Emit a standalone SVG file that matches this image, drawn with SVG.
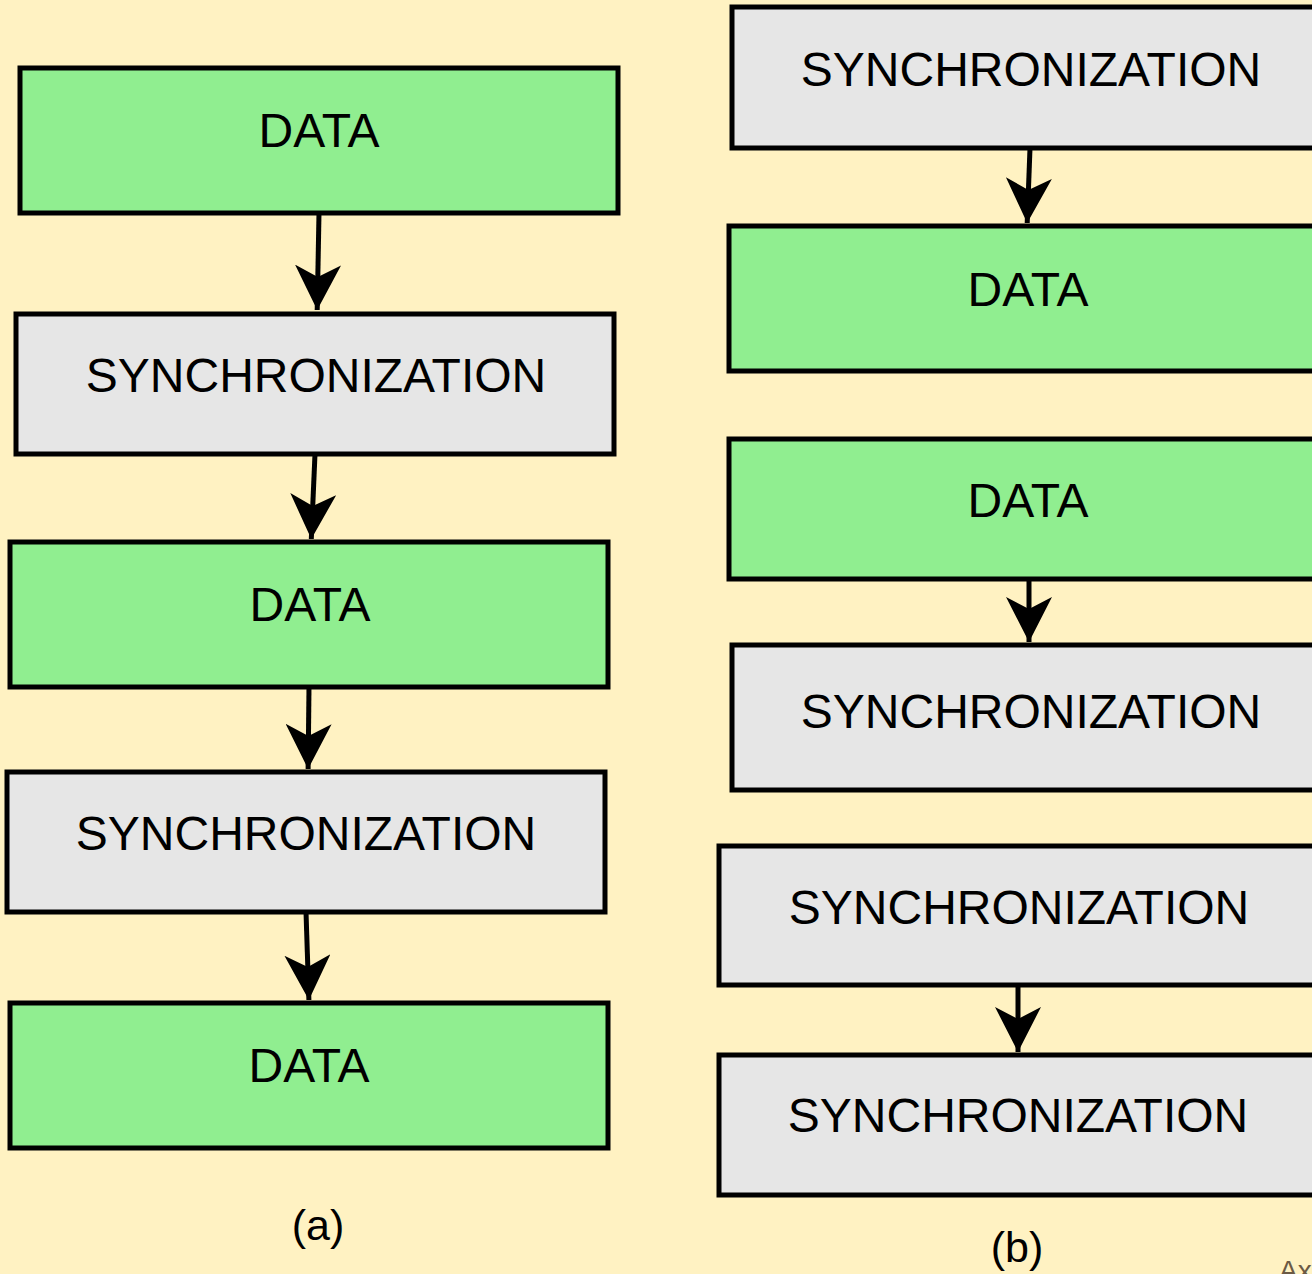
<svg xmlns="http://www.w3.org/2000/svg" width="1312" height="1274" viewBox="0 0 1312 1274">
<defs>
<style>
.d{fill:#90ee90;stroke:#000;stroke-width:5}
.s{fill:#e6e6e6;stroke:#000;stroke-width:5}
.t{font-family:"Liberation Sans",Arial,sans-serif;font-size:48px;fill:#000;text-anchor:middle}
.c{stroke:#000;stroke-width:5;fill:none}
.cap{font-family:"Liberation Sans",Arial,sans-serif;font-size:43px;fill:#000;text-anchor:middle}
</style>
<marker id="ah" markerUnits="userSpaceOnUse" viewBox="0 0 46 46" markerWidth="46" markerHeight="46" refX="45" refY="23" orient="auto">
<path d="M0,0 L45,23 L0,46 L12,23 Z" fill="#000"/>
</marker>
</defs>
<rect width="1312" height="1274" fill="#fff2c2"/>
<g id="connectors">
<line class="c" x1="319" y1="213" x2="317.2" y2="310" marker-end="url(#ah)"/>
<line class="c" x1="315" y1="454" x2="311.3" y2="539" marker-end="url(#ah)"/>
<line class="c" x1="309" y1="687" x2="308.1" y2="769" marker-end="url(#ah)"/>
<line class="c" x1="306" y1="912" x2="308.9" y2="1000" marker-end="url(#ah)"/>
<line class="c" x1="1030" y1="148" x2="1027.2" y2="223" marker-end="url(#ah)"/>
<line class="c" x1="1029" y1="579" x2="1029" y2="642" marker-end="url(#ah)"/>
<line class="c" x1="1018" y1="985" x2="1018" y2="1052" marker-end="url(#ah)"/>
</g>
<g id="a1"><rect class="d" x="20" y="68" width="598" height="145"/><text class="t" x="319" y="147">DATA</text></g>
<g id="a2"><rect class="s" x="16" y="314" width="598" height="140"/><text class="t" x="316" y="392">SYNCHRONIZATION</text></g>
<g id="a3"><rect class="d" x="10" y="542" width="598" height="145"/><text class="t" x="310" y="621">DATA</text></g>
<g id="a4"><rect class="s" x="7" y="772" width="598" height="140"/><text class="t" x="306" y="850">SYNCHRONIZATION</text></g>
<g id="a5"><rect class="d" x="10" y="1003" width="598" height="145"/><text class="t" x="309" y="1082">DATA</text></g>
<g id="b1"><rect class="s" x="732" y="7" width="600" height="141"/><text class="t" x="1031" y="86">SYNCHRONIZATION</text></g>
<g id="b2"><rect class="d" x="729" y="226" width="600" height="145"/><text class="t" x="1028" y="306">DATA</text></g>
<g id="b3"><rect class="d" x="729" y="439" width="600" height="140"/><text class="t" x="1028" y="517">DATA</text></g>
<g id="b4"><rect class="s" x="732" y="645" width="600" height="145"/><text class="t" x="1031" y="728">SYNCHRONIZATION</text></g>
<g id="b5"><rect class="s" x="719" y="846" width="600" height="139"/><text class="t" x="1019" y="924">SYNCHRONIZATION</text></g>
<g id="b6"><rect class="s" x="719" y="1055" width="600" height="140"/><text class="t" x="1018" y="1132">SYNCHRONIZATION</text></g>
<text class="cap" x="318" y="1240">(a)</text>
<text class="cap" x="1017" y="1262">(b)</text>
<text x="1279" y="1280" font-family="Liberation Sans,Arial,sans-serif" font-size="28" fill="#6b5a45">Ax</text>
</svg>
